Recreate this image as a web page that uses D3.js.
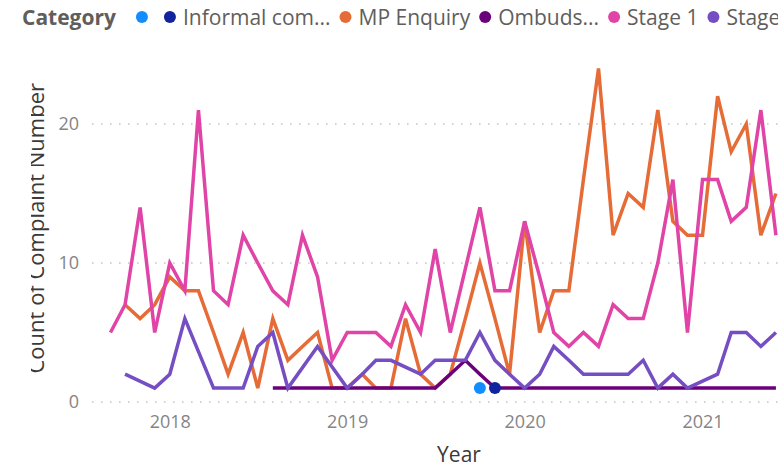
<!DOCTYPE html>
<html>
<head>
<meta charset="utf-8">
<script src="https://cdn.jsdelivr.net/npm/d3@7"></script>
<style>
  body { margin: 0; background: #fff; overflow: hidden; }
  svg { display: block; font-family: "Segoe UI", "Open Sans", sans-serif; }
</style>
</head>
<body>
<svg id="chart" width="778" height="468"></svg>
<script>
// Monthly complaint counts, Sep 2017 – Jun 2021 (null = no complaints recorded that month)
const firstMonth = "2017-09";
const monthCount = 46;

const stage1 = [5, 7, 14, 5, 10, 8, 21, 8, 7, 12, 10, 8, 7, 12, 9, 3,
  5, 5, 5, 4, 7, 5, 11, 5, null, 14, 8, 8,
  13, 9, 5, 4, 5, 4, 7, 6, 6, 10, 16, 5,
  16, 16, 13, 14, 21, 12];

const mpEnquiry = [null, 7, 6, 7, 9, 8, 8, 5, 2, 5, 1, 6, 3, 4, 5, 1,
  1, 2, 1, 1, 6, 2, 1, 2, 6, 10, 6, 2,
  13, 5, 8, 8, 16, 24, 12, 15, 14, 21, 13, 12,
  12, 22, 18, 20, 12, 15];

const stage2 = [null, 2, null, 1, 2, 6, null, 1, 1, 1, 4, 5, 1, null, 4, null,
  1, 2, 3, 3, null, 2, 3, 3, 3, 5, 3, 2,
  1, 2, 4, 3, 2, 2, 2, 2, 3, 1, 2, 1,
  null, 2, 5, 5, 4, 5];

const ombudsman = [null, null, null, null, null, null, null, null, null, null, null, 1, 1, 1, 1, 1,
  1, 1, 1, 1, 1, 1, 1, 2, 3, 2, 1, 1,
  1, 1, 1, 1, 1, 1, 1, 1, 1, 1, 1, 1,
  1, 1, 1, 1, 1, 1];

// Single-month categories
const blankMonths = ["2019-10"];
const blankValues = [1];
const informalMonths = ["2019-11"];
const informalValues = [1];

const legendLabels = ["", "Informal com...", "MP Enquiry", "Ombuds...", "Stage 1", "Stage 2"];
const legendColors = ["#118DFF", "#12239E", "#E66C37", "#6B007B", "#E044A7", "#744EC2"];

const yTicks = [0, 10, 20];
const xTickYears = [2018, 2019, 2020, 2021];

// ---------------------------------------------------------------
const parseMonth = d3.timeParse("%Y-%m");
const months = d3.timeMonth.range(parseMonth(firstMonth),
  d3.timeMonth.offset(parseMonth(firstMonth), monthCount));

const svg = d3.select("#chart");

// Plot area (the right part runs past the visible frame)
const plot = { left: 92, right: 826, top: 54.5, bottom: 402 };

const x = d3.scaleTime()
  .domain([new Date(2017, 6, 25), new Date(2021, 8, 12)])
  .range([plot.left, plot.right]);

const y = d3.scaleLinear()
  .domain([0, 25])
  .range([plot.bottom, plot.top]);

// Gridlines
const grid = svg.append("g");
grid.selectAll("line")
  .data(yTicks)
  .join("line")
  .attr("x1", plot.left)
  .attr("x2", plot.right)
  .attr("y1", d => y(d))
  .attr("y2", d => y(d))
  .attr("stroke", "#C8C6C4")
  .attr("stroke-width", 1.6)
  .attr("stroke-dasharray", "1.6 7.4");

// Y axis
const yAxis = d3.axisLeft(y).tickValues(yTicks).tickSize(0).tickPadding(0);
svg.append("g")
  .attr("transform", `translate(${plot.left - 13},0)`)
  .call(yAxis)
  .call(g => g.select(".domain").remove())
  .selectAll("text")
  .attr("fill", "#858585")
  .attr("font-size", 18)
  .attr("font-family", "'Segoe UI', 'Open Sans', sans-serif");

// X axis
const xAxis = d3.axisBottom(x)
  .tickValues(xTickYears.map(yr => new Date(yr, 0, 1)))
  .tickFormat(d3.timeFormat("%Y"))
  .tickSize(0)
  .tickPadding(0);
svg.append("g")
  .attr("transform", `translate(0,${plot.bottom + 13})`)
  .call(xAxis)
  .call(g => g.select(".domain").remove())
  .selectAll("text")
  .attr("fill", "#858585")
  .attr("font-size", 18)
  .attr("font-family", "'Segoe UI', 'Open Sans', sans-serif");

// Axis titles
svg.append("text")
  .attr("x", (plot.left + plot.right) / 2)
  .attr("y", 462)
  .attr("text-anchor", "middle")
  .attr("font-size", 21)
  .attr("fill", "#3b3a39")
  .text("Year");

// The visual's left edge cuts into the rotated title
svg.append("clipPath")
  .attr("id", "title-clip")
  .append("rect")
  .attr("x", 31).attr("y", 0)
  .attr("width", 60).attr("height", 468);

svg.append("g")
  .attr("clip-path", "url(#title-clip)")
  .append("text")
  .attr("transform", `translate(44,${(plot.top + plot.bottom) / 2}) rotate(-90)`)
  .attr("text-anchor", "middle")
  .attr("font-size", 22)
  .attr("fill", "#3b3a39")
  .text("Count of Complaint Number");

// Lines (later series drawn on top)
const lineSeries = [
  { values: mpEnquiry, color: legendColors[2] },
  { values: ombudsman, color: legendColors[3] },
  { values: stage1, color: legendColors[4] },
  { values: stage2, color: legendColors[5] }
];

const line = d3.line()
  .x(d => x(d.date))
  .y(d => y(d.value));

const lines = svg.append("g");
lineSeries.forEach(s => {
  const pts = s.values
    .map((v, i) => ({ date: months[i], value: v }))
    .filter(d => d.value !== null);
  lines.append("path")
    .datum(pts)
    .attr("d", line)
    .attr("fill", "none")
    .attr("stroke", s.color)
    .attr("stroke-width", 3.5)
    .attr("stroke-linejoin", "miter");
});

// Single-point categories as markers
const markerSeries = [
  { months: blankMonths, values: blankValues, color: legendColors[0] },
  { months: informalMonths, values: informalValues, color: legendColors[1] }
];
markerSeries.forEach(s => {
  svg.append("g").selectAll("circle")
    .data(s.months.map((m, i) => ({ date: parseMonth(m), value: s.values[i] })))
    .join("circle")
    .attr("cx", d => x(d.date))
    .attr("cy", d => y(d.value))
    .attr("r", 6)
    .attr("fill", s.color);
});

// Legend
const legend = svg.append("g");
const legendY = 17;
const title = legend.append("text")
  .attr("x", 22)
  .attr("y", legendY)
  .attr("dy", "0.36em")
  .attr("font-size", 21)
  .attr("font-weight", 700)
  .attr("fill", "#605E5C")
  .text("Category");

let dotX = 22 + title.node().getComputedTextLength() + 26;
legendLabels.forEach((label, i) => {
  legend.append("circle")
    .attr("cx", dotX)
    .attr("cy", legendY)
    .attr("r", 6)
    .attr("fill", legendColors[i]);
  const t = legend.append("text")
    .attr("x", dotX + 13)
    .attr("y", legendY)
    .attr("dy", "0.36em")
    .attr("font-size", 21)
    .attr("fill", "#605E5C")
    .text(label);
  const w = label ? t.node().getComputedTextLength() : 0;
  dotX = label ? dotX + 13 + w + 15 : dotX + 28;
});
</script>
</body>
</html>
